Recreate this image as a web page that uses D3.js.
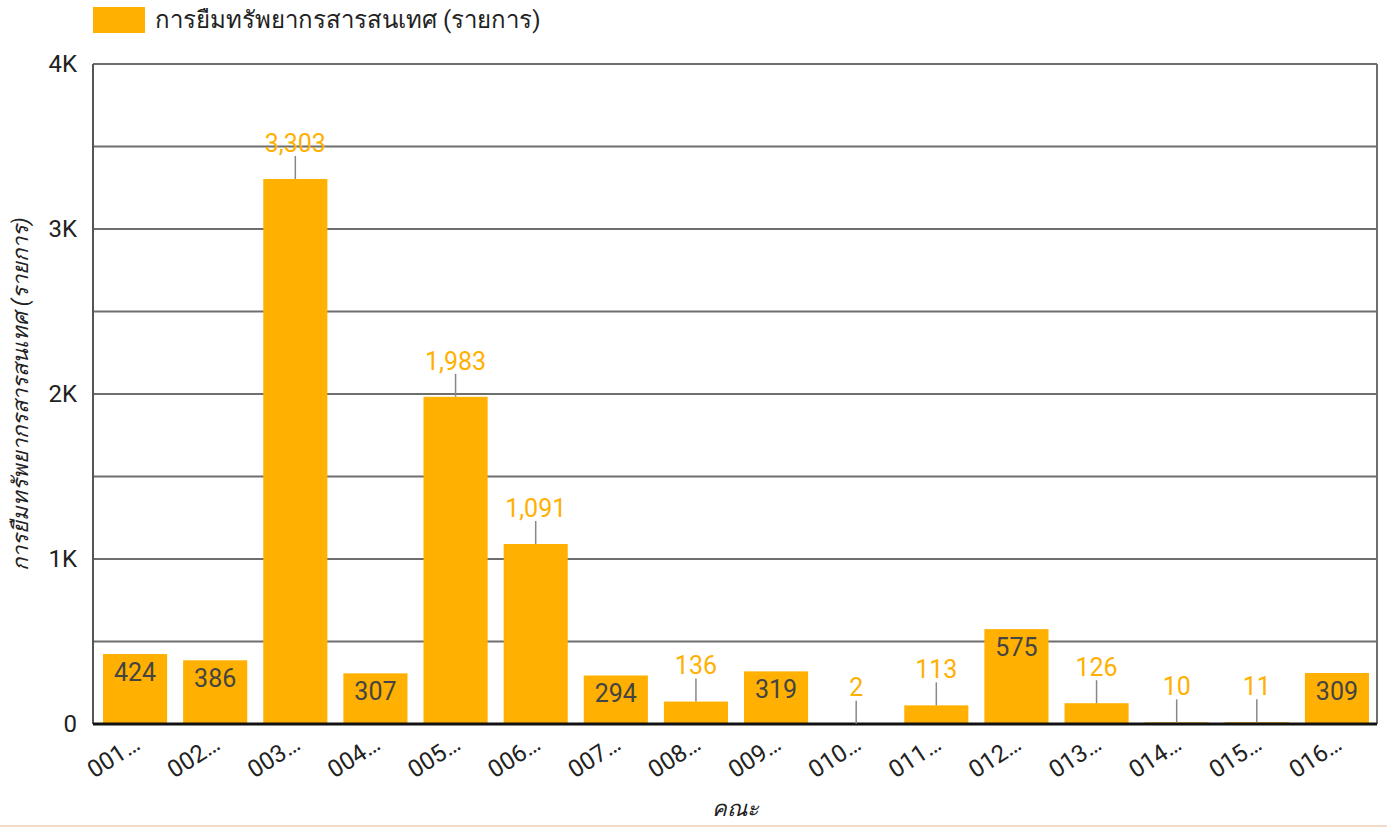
<!DOCTYPE html>
<html>
<head>
<meta charset="utf-8">
<script src="https://cdn.jsdelivr.net/npm/d3@7"></script>
<style>
  body { margin: 0; background: #fff; }
  svg { display: block; font-family: Roboto, "Noto Sans", sans-serif; }
</style>
</head>
<body>
<svg id="chart"></svg>
<script>
// faculty codes (names are truncated in the original)
const categories = ["001…", "002…", "003…", "004…", "005…", "006…", "007…", "008…",
  "009…", "010…", "011…", "012…", "013…", "014…", "015…", "016…"];
const loans = [424, 386, 3303, 307, 1983, 1091, 294, 136, 319, 2, 113, 575, 126, 10, 11, 309];
const yTicks = [0, 1000, 2000, 3000, 4000];
const gridValues = [0, 500, 1000, 1500, 2000, 2500, 3000, 3500, 4000];
const seriesName = "การยืมทรัพยากรสารสนเทศ (รายการ)";
const xTitle = "คณะ";

const W = 1387, H = 827;
const margin = { top: 64, right: 10, bottom: 103, left: 93 };
const width = W - margin.left - margin.right;
const height = H - margin.top - margin.bottom;
const barColor = "#ffb000";

const svg = d3.select("#chart").attr("width", W).attr("height", H);

// bottom border strip
svg.append("line")
  .attr("x1", 0).attr("x2", W).attr("y1", H - 1).attr("y2", H - 1)
  .attr("stroke", "#f3d9c6").attr("stroke-width", 2);

const g = svg.append("g").attr("transform", `translate(${margin.left},${margin.top})`);

const x = d3.scaleBand().domain(categories).range([2, width]).paddingInner(0.2).paddingOuter(0.1);
const y = d3.scaleLinear().domain([0, 4000]).range([height, 0]);

// gridlines
g.selectAll(".grid").data(gridValues).enter().append("line")
  .attr("x1", 0).attr("x2", width)
  .attr("y1", d => y(d)).attr("y2", d => y(d))
  .attr("stroke", "#6e6e6e").attr("stroke-width", 2);

// left & right frame
g.append("line").attr("x1", 0).attr("x2", 0).attr("y1", 0).attr("y2", height)
  .attr("stroke", "#555").attr("stroke-width", 2);
g.append("line").attr("x1", width).attr("x2", width).attr("y1", 0).attr("y2", height)
  .attr("stroke", "#6e6e6e").attr("stroke-width", 2);

// bars
g.selectAll(".bar").data(loans).enter().append("rect")
  .attr("class", "bar")
  .attr("x", (d, i) => x(categories[i]))
  .attr("width", x.bandwidth())
  .attr("y", d => y(d))
  .attr("height", d => height - y(d))
  .attr("fill", barColor);

// zero axis line
g.append("line").attr("x1", 0).attr("x2", width).attr("y1", height).attr("y2", height)
  .attr("stroke", "#111").attr("stroke-width", 3);

// value labels: inside the bar when it fits, otherwise above with a leader line
const fmt = d3.format(",");
const outside = d => d < 200 || d > 1000;

loans.forEach((d, i) => {
  const cx = x(categories[i]) + x.bandwidth() / 2;
  const top = y(d);
  if (outside(d)) {
    g.append("line")
      .attr("x1", cx).attr("x2", cx).attr("y1", top - 23).attr("y2", top)
      .attr("stroke", "#888").attr("stroke-width", 1.5);
    g.append("text")
      .attr("x", cx).attr("y", top - 36)
      .attr("dy", "0.35em")
      .attr("text-anchor", "middle")
      .attr("font-size", 25)
      .attr("fill", barColor)
      .text(fmt(d));
  } else {
    g.append("text")
      .attr("x", cx).attr("y", top + 18)
      .attr("dy", "0.35em")
      .attr("text-anchor", "middle")
      .attr("font-size", 25)
      .attr("fill", "#444")
      .text(fmt(d));
  }
});

// y tick labels
g.selectAll(".ytick").data(yTicks).enter().append("text")
  .attr("x", -16).attr("y", d => y(d))
  .attr("dy", "0.35em")
  .attr("text-anchor", "end")
  .attr("font-size", 24)
  .attr("fill", "#222")
  .text(d => d === 0 ? "0" : d3.format("~s")(d).replace("k", "K"));

// x tick labels, rotated
categories.forEach(c => {
  const cx = x(c) + x.bandwidth() / 2 + 2;
  g.append("text")
    .attr("transform", `translate(${cx},${height + 17}) rotate(-33)`)
    .attr("text-anchor", "end")
    .attr("dy", "0.35em")
    .attr("font-size", 24)
    .attr("fill", "#222")
    .text(c);
});

// axis titles
svg.append("text")
  .attr("transform", `translate(28,${margin.top + height / 2}) rotate(-90)`)
  .attr("text-anchor", "middle")
  .attr("font-size", 22)
  .attr("font-style", "italic")
  .attr("fill", "#222")
  .text(seriesName);

svg.append("text")
  .attr("x", margin.left + width / 2).attr("y", 808)
  .attr("dy", "0.35em")
  .attr("text-anchor", "middle")
  .attr("font-size", 22)
  .attr("font-style", "italic")
  .attr("fill", "#222")
  .text(xTitle);

// legend
svg.append("rect").attr("x", 93).attr("y", 7).attr("width", 52).attr("height", 26).attr("fill", barColor);
svg.append("text")
  .attr("x", 155).attr("y", 20).attr("dy", "0.35em")
  .attr("font-size", 24).attr("fill", "#222")
  .text(seriesName);
</script>
</body>
</html>
